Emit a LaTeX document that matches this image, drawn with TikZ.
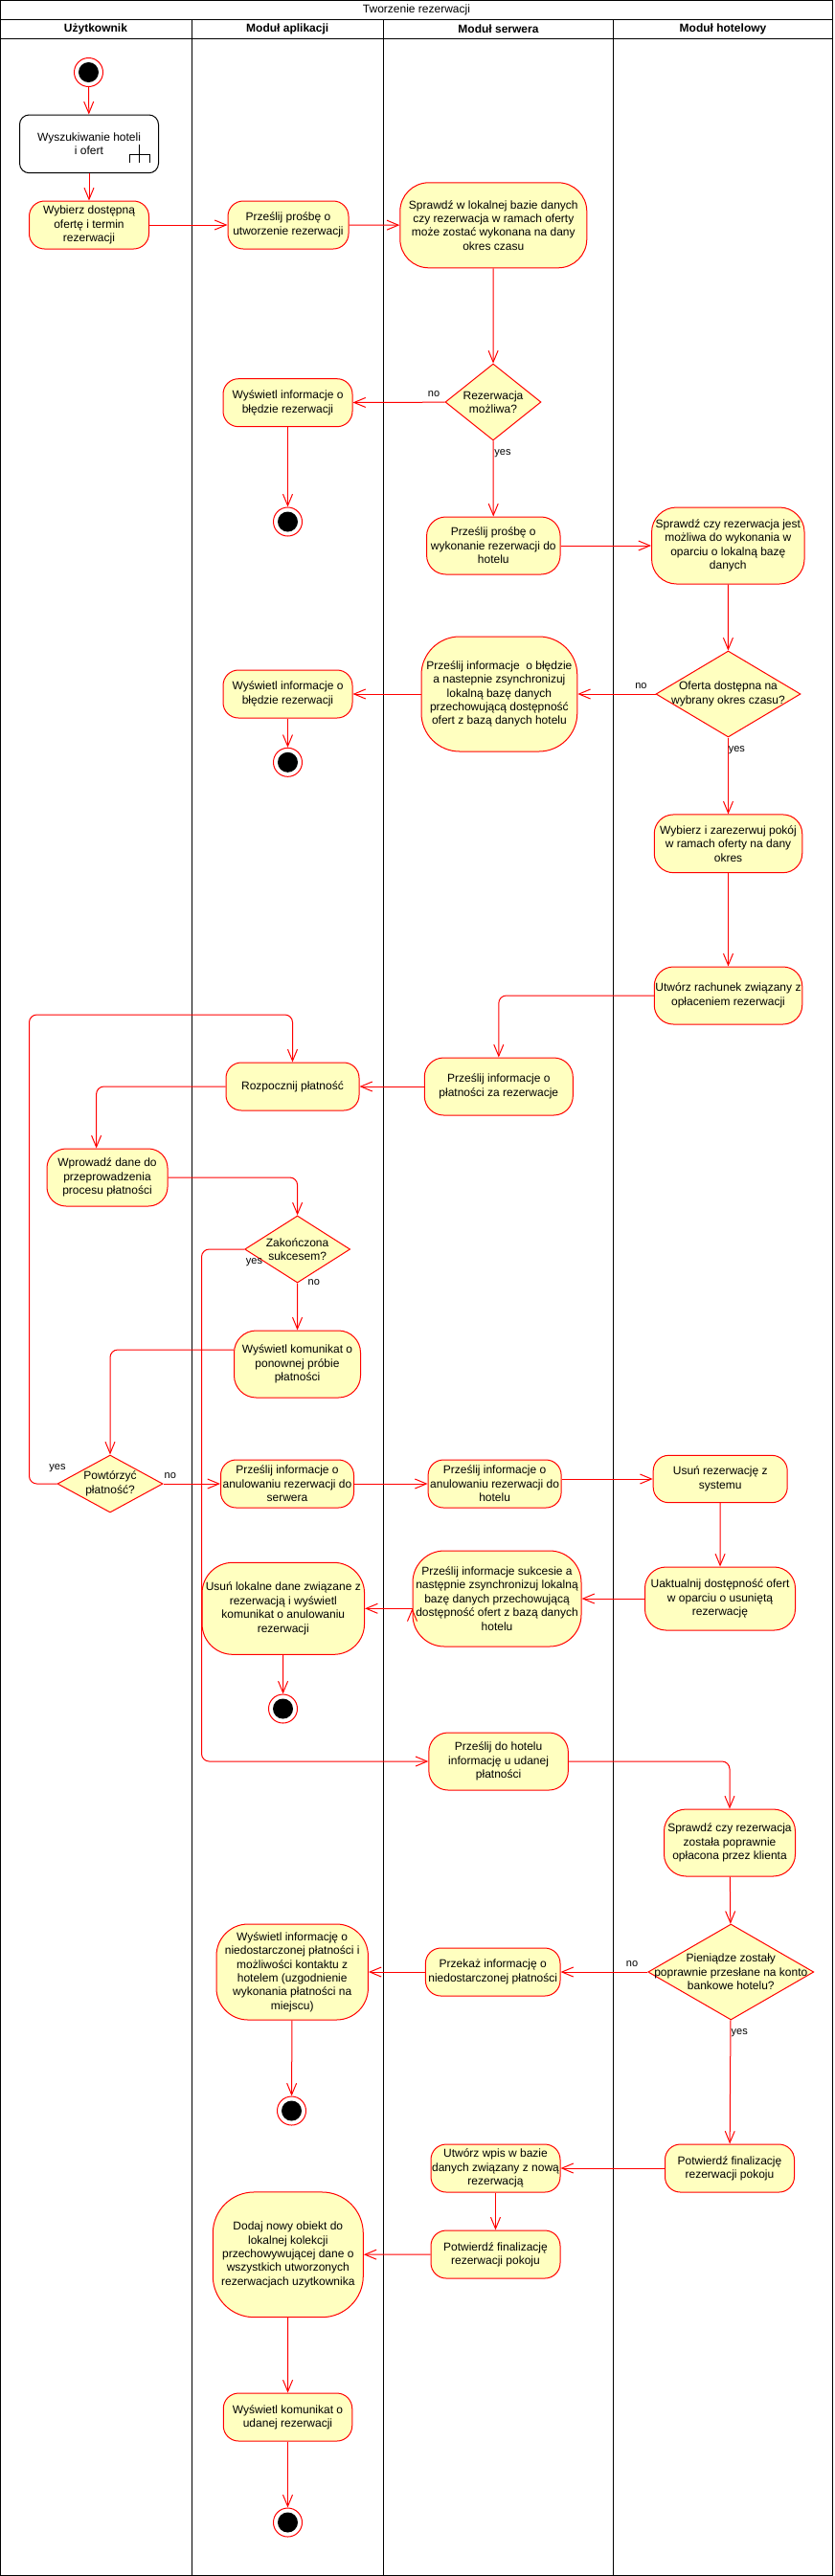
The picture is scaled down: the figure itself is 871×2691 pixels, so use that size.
\documentclass[tikz,border=0pt]{standalone}
\usepackage{fontspec}
\setmainfont{Liberation Sans}
\usetikzlibrary{arrows.meta,shapes.geometric}
\definecolor{actfill}{HTML}{FFFFC0}
\newcommand{\actfont}{\fontsize{12}{14.4}\selectfont}
\newcommand{\guardfont}{\fontsize{11}{13}\selectfont}
\tikzset{
  act/.style={draw=red, fill=actfill, rounded corners=#1, align=center, inner sep=0pt, font=\actfont},
  act/.default=16pt,
  subact/.style={draw=black, fill=white, rounded corners=10pt, align=center, inner sep=0pt, font=\actfont},
  wh/.style 2 args={minimum width=#1pt, minimum height=#2pt},
  dec/.style={diamond, draw=red, fill=actfill, inner sep=0pt},
  dectext/.style={label={[align=center, font=\actfont]center:{#1}}},
  fin/.style={circle, draw=red, fill=white, minimum size=30pt, inner sep=0pt,
    path picture={\fill[black] (path picture bounding box.center) circle (10.5pt);}},
  flow/.style={draw=red, -{Straight Barb[length=12pt,width=10pt]}, rounded corners=8pt},
  guard/.style={font=\guardfont, inner sep=0pt},
  lane/.style={font=\actfont\bfseries}
}
\begin{document}
\begin{tikzpicture}[x=1pt, y=-1pt, line width=1pt]
                \useasboundingbox (0,0) rectangle (871,2691);
                % tory
                \draw (0.5,0.5) rectangle (869.5,2690);
                \draw (0.5,20) -- (869.5,20) (0.5,40) -- (869.5,40);
                \draw (200,20) -- (200,2690) (400.5,20) -- (400.5,2690) (640.5,20) -- (640.5,2690);
                \node[font=\actfont] (title) at (435,10) {Tworzenie rezerwacji};
                \node[lane] (uzyt) at (100,30) {Użytkownik};
                \node[lane] (aplik) at (300.25,30) {Moduł aplikacji};
                \node[lane] (serw) at (520.5,30) {Moduł serwera};
                \node[lane] (hotel) at (755,30) {Moduł hotelowy};

                \node[fin] (start) at (92.5,75.5) {};
                \node[subact, wh={145}{60.7}] (szukaj) at (93,150.35) {Wyszukiwanie hoteli\\i ofert};
                \draw (145.6,150.7) -- (145.6,170) (135,170) -- (135,161.7) -- (156,161.7) -- (156,170);
                \node[act, wh={125}{50}] (wybierz) at (93,235) {Wybierz dostępną\\ofertę i termin\\rezerwacji};
                \node[act, wh={126}{50}] (utworz) at (301,235) {Prześlij prośbę o\\utworzenie rezerwacji};
                \node[act=30pt, wh={195}{89}] (sprawdz) at (515.3,235.3) {Sprawdź w lokalnej bazie danych\\czy rezerwacja w ramach oferty\\może zostać wykonana na dany\\okres czasu};
                \node[dec, wh={100}{80}, dectext={Rezerwacja\\możliwa?}] (mozliwa) at (515,420) {};
                \node[act, wh={135}{50}] (blad1) at (300.5,420.7) {Wyświetl informacje o\\błędzie rezerwacji};
                \node[fin] (end1) at (300.5,545) {};
                \node[act=20pt, wh={139.5}{60}] (wykonanie) at (515.3,570) {Prześlij prośbę o\\wykonanie rezerwacji do\\hotelu};
                \node[act=26pt, wh={159.5}{80}] (sprHotel) at (760.3,570) {Sprawdź czy rezerwacja jest\\możliwa do wykonania w\\oparciu o lokalną bazę\\danych};
                \node[dec, wh={151}{90}, dectext={Oferta dostępna na\\wybrany okres czasu?}] (dostepna) at (760.5,725) {};
                \node[act=40pt, wh={162.8}{120}] (synchBlad) at (521.4,725) {Prześlij informacje~~o błędzie\\a nastepnie zsynchronizuj\\lokalną bazę danych\\przechowującą dostępność\\ofert z bazą danych hotelu};
                \node[act, wh={135}{50}] (blad2) at (300.5,725) {Wyświetl informacje o\\błędzie rezerwacji};
                \node[fin] (end2) at (300.5,796.3) {};
                \node[act=20pt, wh={154.5}{60.7}] (pokoj) at (760.5,881.3) {Wybierz i zarezerwuj pokój\\w ramach oferty na dany\\okres};
                \node[act=20pt, wh={154.5}{60}] (rachunek) at (760.5,1040) {Utwórz rachunek związany z\\opłaceniem rezerwacji};
                \node[act=20pt, wh={155}{60}] (infoPlat) at (520.8,1135) {Prześlij informacje o\\płatności za rezerwacje};
                \node[act, wh={139}{50}] (rozpocznij) at (305.5,1135) {Rozpocznij płatność};
                \node[act=20pt, wh={126}{60}] (wprowadz) at (112,1230) {Wprowadź dane do\\przeprowadzenia\\procesu płatności};
                \node[dec, wh={110}{70}, dectext={Zakończona\\sukcesem?}] (sukces) at (310.6,1305) {};
                \node[act=23pt, wh={132}{70}] (ponow) at (310.5,1425) {Wyświetl komunikat o\\ponownej próbie\\płatności};
                \node[dec, wh={110}{60}, dectext={Powtórzyć\\płatność?}] (powtorz) at (115,1550) {};
                \node[act, wh={139}{50}] (anulSerw) at (300,1550) {Prześlij informacje o\\anulowaniu rezerwacji do\\serwera};
                \node[act, wh={139}{50}] (anulHot) at (516.6,1550) {Prześlij informacje o\\anulowaniu rezerwacji do\\hotelu};
                \node[act, wh={140}{49.3}] (usunRez) at (752.2,1545) {Usuń rezerwację z\\systemu};
                \node[act=22pt, wh={157}{66}] (uaktualnij) at (752,1670) {Uaktualnij dostępność ofert\\w oparciu o usuniętą\\rezerwację};
                \node[act=33pt, wh={176}{100}] (synchOk) at (519,1670) {Prześlij informacje sukcesie a\\następnie zsynchronizuj lokalną\\bazę danych przechowującą\\dostępność ofert z bazą danych\\hotelu};
                \node[act=32pt, wh={169.5}{96}] (usunLok) at (295.8,1680.3) {Usuń lokalne dane związane z\\rezerwacją i wyświetl\\komunikat o anulowaniu\\rezerwacji};
                \node[fin] (end3) at (295.5,1785) {};
                \node[act=20pt, wh={145.5}{60}] (udana) at (520.6,1840) {Prześlij do hotelu\\informację u udanej\\płatności};
                \node[act=23pt, wh={137}{70}] (oplacona) at (762,1925) {Sprawdź czy rezerwacja\\została poprawnie\\opłacona przez klienta};
                \node[dec, wh={173}{100}, dectext={Pieniądze zostały\\poprawnie przesłane na konto\\bankowe hotelu?}] (pieniadze) at (763.3,2060) {};
                \node[act, wh={140.6}{50}] (niedost) at (514.7,2060) {Przekaż informację o\\niedostarczonej płatności};
                \node[act=33pt, wh={158.4}{100}] (kontakt) at (305.2,2060) {Wyświetl informację o\\niedostarczonej płatności i\\możliwości kontaktu z\\hotelem (uzgodnienie\\wykonania płatności na\\miejscu)};
                \node[fin] (end4) at (304.5,2205) {};
                \node[act, wh={135}{50}] (finHot) at (762,2265) {Potwierdź finalizację\\rezerwacji pokoju};
                \node[act, wh={135}{50}] (wpis) at (517.5,2265) {Utwórz wpis w bazie\\danych związany z nową\\rezerwacją};
                \node[act, wh={135}{50}] (finSerw) at (517.5,2355) {Potwierdź finalizację\\rezerwacji pokoju};
                \node[act=43pt, wh={157}{130.7}] (kolekcja) at (300.8,2355.3) {Dodaj nowy obiekt do\\lokalnej kolekcji\\przechowywującej dane o\\wszystkich utworzonych\\rezerwacjach uzytkownika};
                \node[act, wh={134.5}{50}] (komunikat) at (300.5,2525) {Wyświetl komunikat o\\udanej rezerwacji};
                \node[fin] (end5) at (300.5,2635) {};

                \path [flow] (start) edge (szukaj)
                             (szukaj) edge (wybierz)
                             (wybierz) edge (utworz)
                             (utworz) edge (sprawdz)
                             (sprawdz) edge (mozliwa)
                             (mozliwa) edge (blad1)
                                       edge (wykonanie)
                             (blad1) edge (end1)
                             (wykonanie) edge (sprHotel)
                             (sprHotel) edge (dostepna)
                             (dostepna) edge (synchBlad)
                                        edge (pokoj)
                             (synchBlad) edge (blad2)
                             (blad2) edge (end2)
                             (pokoj) edge (rachunek)
                             (infoPlat) edge (rozpocznij)
                             (sukces) edge (ponow)
                             (powtorz) edge (anulSerw)
                             (anulSerw) edge (anulHot)
                             (anulHot.east |- usunRez.west) edge (usunRez.west)
                             (usunRez) edge (uaktualnij)
                             (uaktualnij) edge (synchOk)
                             (synchOk.west |- usunLok.east) edge (usunLok.east)
                             (usunLok) edge (end3)
                             (oplacona) edge (pieniadze)
                             (pieniadze) edge (niedost)
                                         edge (finHot)
                             (niedost) edge (kontakt)
                             (kontakt) edge (end4)
                             (finHot) edge (wpis)
                             (wpis) edge (finSerw)
                             (finSerw) edge (kolekcja)
                             (kolekcja) edge (komunikat)
                             (komunikat) edge (end5)
                ;
                \draw [flow] (rachunek.west) -| (infoPlat.north);
                \draw [flow] (rozpocznij.west) -| ([xshift=-11.4pt]wprowadz.north);
                \draw [flow] (wprowadz.east) -| (sukces.north);
                \draw [flow] (sukces.west) -- ++(-44.6,0) |- (udana.west);
                \draw [flow] ([yshift=15pt]ponow.west) -| (powtorz.north);
                \draw [flow] (powtorz.west) -| (30.5,1060) -| (rozpocznij.north);
                \draw [flow] (udana.east) -| (oplacona.north);

                \node[guard] (no1) at (453,411.7) {no};
                \node[guard] (yes1) at (525,473.3) {yes};
                \node[guard] (no2) at (669.4,716.7) {no};
                \node[guard] (yes2) at (769.4,783.3) {yes};
                \node[guard] (yes3) at (265.5,1318.3) {yes};
                \node[guard] (no3) at (327.8,1339.3) {no};
                \node[guard] (yes4) at (60,1533.3) {yes};
                \node[guard] (no4) at (177.8,1541.7) {no};
                \node[guard] (no5) at (660,2051.7) {no};
                \node[guard] (yes5) at (772.2,2124) {yes};
            \end{tikzpicture}
\end{document}
